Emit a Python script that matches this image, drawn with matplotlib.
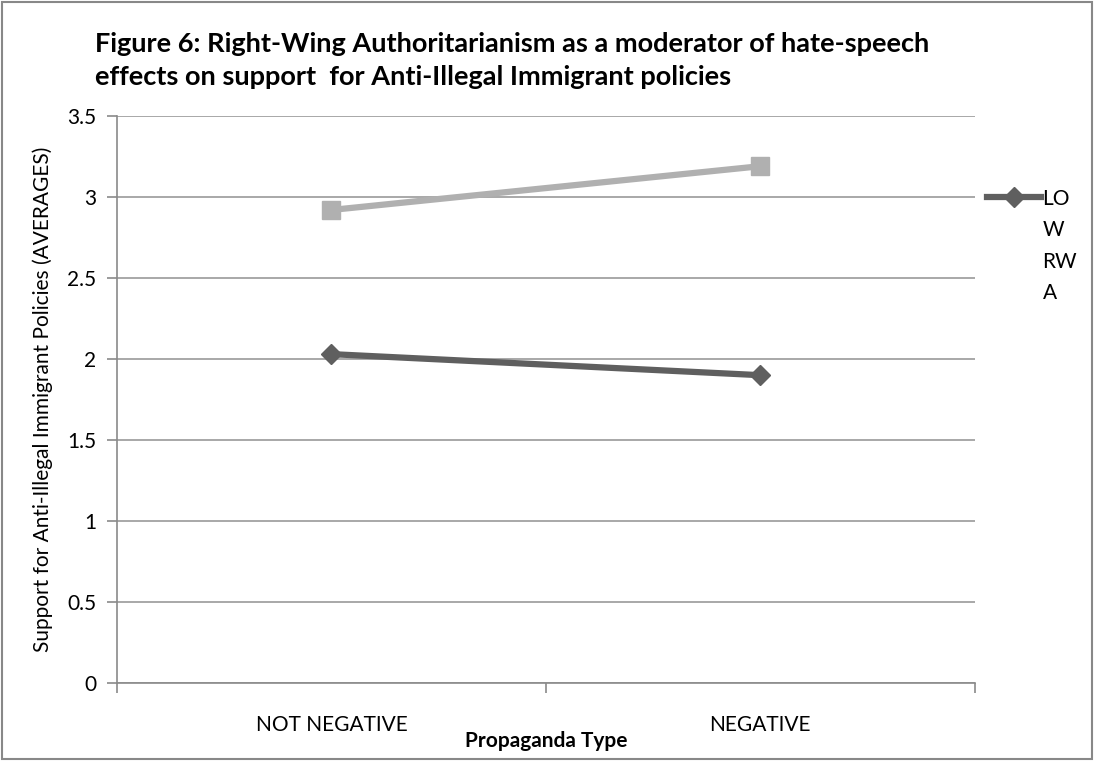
import matplotlib
matplotlib.use('Agg')
import matplotlib.pyplot as plt
from matplotlib.patches import Rectangle
from matplotlib.lines import Line2D

# data
categories = ['NOT NEGATIVE', 'NEGATIVE']
low_rwa = [2.03, 1.90]
high_rwa = [2.92, 3.19]
y_ticks = [0, 0.5, 1, 1.5, 2, 2.5, 3, 3.5]
y_tick_labels = ['0', '0.5', '1', '1.5', '2', '2.5', '3', '3.5']
legend_label = 'LO\nW\nRW\nA'

plt.rcParams['font.family'] = ['Lato', 'DejaVu Sans']

fig = plt.figure(figsize=(10.94, 7.61), dpi=100)
ax = fig.add_axes([0.107, 0.1025, 0.784, 0.7451])

x = list(range(len(categories)))
ax.plot(x, high_rwa, color='#b0b0b0', linewidth=4.5, marker='s', markersize=13,
        zorder=3)
ax.plot(x, low_rwa, color='#5f5f5f', linewidth=4.5, marker='D',
        markersize=10, zorder=4)

ax.set_xlim(-0.5, 1.5)
ax.set_ylim(0, 3.5)
ax.set_yticks(y_ticks)
ax.set_yticklabels(y_tick_labels, fontsize=15)
ax.yaxis.grid(True, color='#9a9a9a', linewidth=1.2)
ax.set_axisbelow(True)

# category boundaries as major ticks, names as minor labels
ax.set_xticks([-0.5, 0.5, 1.5])
ax.set_xticklabels(['', '', ''])
ax.set_xticks(x, minor=True)
ax.set_xticklabels(categories, minor=True, fontsize=15)
ax.tick_params(axis='x', which='major', length=7, color='#8a8a8a', width=1.2)
ax.tick_params(axis='x', which='minor', length=0, pad=23)
ax.tick_params(axis='y', length=7, color='#8a8a8a', width=1.2, pad=8)

for side in ['top', 'right']:
    ax.spines[side].set_visible(False)
for side in ['left', 'bottom']:
    ax.spines[side].set_color('#8a8a8a')
    ax.spines[side].set_linewidth(1.2)

ax.set_ylabel('Support for Anti-Illegal Immigrant Policies (AVERAGES)', fontsize=15,
              labelpad=10)
ax.set_xlabel('Propaganda Type', fontsize=15, fontweight='bold', labelpad=-3)

fig.text(0.087, 0.958, 'Figure 6: Right-Wing Authoritarianism as a moderator of hate-speech\n'
         'effects on support  for Anti-Illegal Immigrant policies',
         fontsize=19.5, fontweight='bold', va='top', ha='left', linespacing=1.45)

# legend drawn by hand: handle sits on the first line of the wrapped label
fig.add_artist(Line2D([0.902, 0.952], [0.741, 0.741], transform=fig.transFigure,
                      color='#5f5f5f', linewidth=4.5))
fig.add_artist(Line2D([0.927], [0.741], transform=fig.transFigure,
                      color='#5f5f5f', marker='D', markersize=10))
fig.text(0.953, 0.752, legend_label, fontsize=15, va='top', ha='left',
         linespacing=1.72)

fig.patches.append(Rectangle((0.002, 0.003), 0.996, 0.994, transform=fig.transFigure,
                             fill=False, edgecolor='#888888', linewidth=1.5))

fig.savefig('out.png', dpi=100)
